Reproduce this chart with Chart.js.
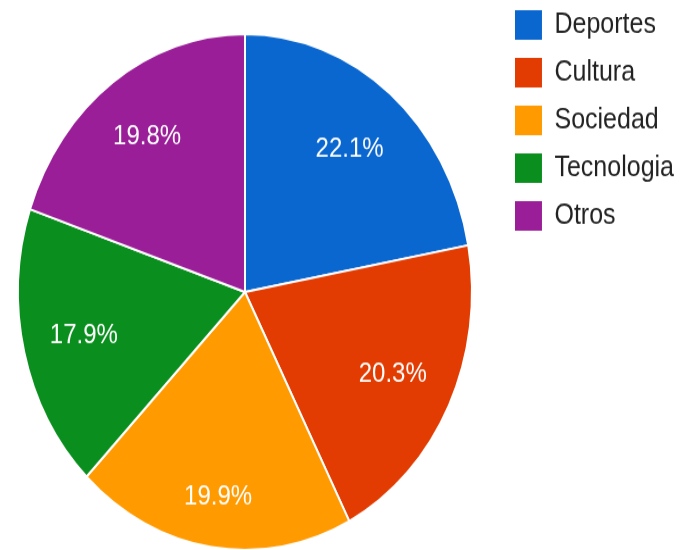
<!DOCTYPE html>
<html>
<head>
<meta charset="utf-8">
<script src="https://cdn.jsdelivr.net/npm/chart.js@4"></script>
<style>
  html, body { margin: 0; padding: 0; background: #fff; width: 696px; height: 550px; overflow: hidden; }
  /* the reference is stretched vertically, so the whole chart is scaled in y;
     the canvas is a bit larger than the window and shifted up/left */
  #wrap { position: absolute; left: -9px; top: -8px; width: 693px; height: 528px;
          transform: scaleY(1.1364); transform-origin: 0 0; }
</style>
</head>
<body>
<div id="wrap"><canvas id="pie"></canvas></div>
<script>
const categories = ['Deportes', 'Cultura', 'Sociedad', 'Tecnologia', 'Otros'];
const shares = [22.1, 20.3, 19.9, 17.9, 19.8];
const shareLabels = ['22.1%', '20.3%', '19.9%', '17.9%', '19.8%'];
const sliceColors = ['#0a67d0', '#e23c02', '#ff9a00', '#0a8f1e', '#9a1e98'];

// how far out (share of the radius) each percentage sits
const labelDepth = [0.72, 0.725, 0.805, 0.73, 0.74];

// percentage text inside each slice
const sliceLabels = {
    id: 'sliceLabels',
    afterDatasetsDraw(chart) {
        const ctx = chart.ctx;
        const arcs = chart.getDatasetMeta(0).data;
        ctx.save();
        ctx.font = '24px "Liberation Sans", Arial, sans-serif';
        ctx.fillStyle = '#ffffff';
        ctx.textAlign = 'center';
        ctx.textBaseline = 'middle';
        arcs.forEach((arc, i) => {
            const p = arc.getProps(['x', 'y', 'startAngle', 'endAngle', 'outerRadius'], true);
            const mid = (p.startAngle + p.endAngle) / 2;
            const r = p.outerRadius * labelDepth[i];
            ctx.fillText(shareLabels[i], p.x + Math.cos(mid) * r, p.y + Math.sin(mid) * r);
        });
        ctx.restore();
    }
};

new Chart(document.getElementById('pie'), {
    type: 'pie',
    data: {
        labels: categories,
        datasets: [{
            data: shares,
            backgroundColor: sliceColors,
            borderColor: '#ffffff',
            borderWidth: 2,
            radius: 227
        }]
    },
    options: {
        responsive: true,
        maintainAspectRatio: false,
        animation: false,
        layout: { padding: 0 },
        plugins: {
            tooltip: { enabled: false },
            legend: {
                position: 'right',
                align: 'start',
                labels: {
                    boxWidth: 27,
                    boxHeight: 26,
                    padding: 16,
                    color: '#222222',
                    font: { family: '"Liberation Sans", Arial, sans-serif', size: 25 },
                    generateLabels(chart) {
                        const items = Chart.overrides.pie.plugins.legend.labels.generateLabels(chart);
                        items.forEach(it => { it.lineWidth = 0; it.strokeStyle = 'rgba(0,0,0,0)'; });
                        return items;
                    }
                }
            }
        }
    },
    plugins: [sliceLabels]
});
</script>
</body>
</html>
